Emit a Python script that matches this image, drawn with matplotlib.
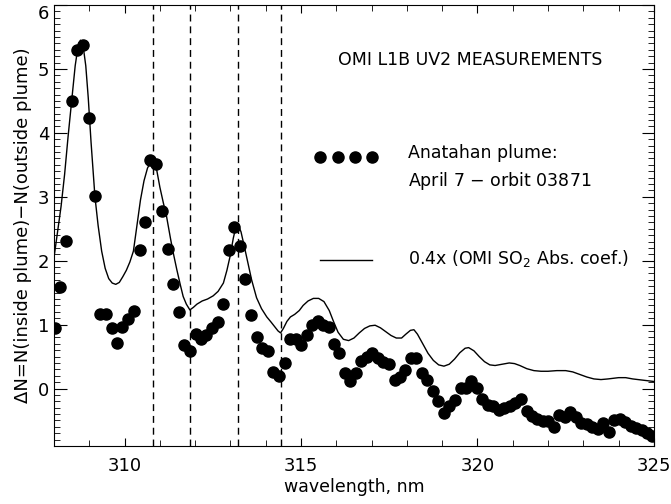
import matplotlib
matplotlib.use("Agg")
import matplotlib.pyplot as plt
from matplotlib.ticker import MultipleLocator

# measured radiance differences (dots)
wl_obs = [308.03, 308.18, 308.34, 308.50, 308.65, 308.81, 308.98, 309.15, 309.30, 309.46,
          309.63, 309.78, 309.94, 310.10, 310.27, 310.44, 310.58, 310.73, 310.90, 311.06,
          311.22, 311.37, 311.53, 311.68, 311.85, 312.01, 312.16, 312.32, 312.48, 312.65,
          312.80, 312.96, 313.11, 313.27, 313.42, 313.58, 313.74, 313.89, 314.06, 314.22,
          314.37, 314.54, 314.70, 314.86, 315.01, 315.17, 315.32, 315.48, 315.63, 315.79,
          315.93, 316.09, 316.24, 316.40, 316.56, 316.71, 316.87, 317.02, 317.18, 317.33,
          317.49, 317.65, 317.80, 317.96, 318.11, 318.27, 318.43, 318.58, 318.74, 318.89,
          319.05, 319.20, 319.36, 319.52, 319.67, 319.83, 319.98, 320.14, 320.29, 320.45,
          320.61, 320.76, 320.92, 321.07, 321.23, 321.39, 321.54, 321.70, 321.85, 322.01,
          322.16, 322.32, 322.48, 322.63, 322.79, 322.94, 323.10, 323.25, 323.41, 323.57,
          323.72, 323.88, 324.03, 324.19, 324.35, 324.50, 324.66, 324.81, 324.94]
dn_obs = [0.95, 1.59, 2.31, 4.50, 5.30, 5.38, 4.23, 3.02, 1.16, 1.16,
          0.95, 0.72, 0.97, 1.09, 1.22, 2.16, 2.60, 3.58, 3.51, 2.77,
          2.18, 1.64, 1.19, 0.68, 0.59, 0.85, 0.78, 0.83, 0.95, 1.04,
          1.32, 2.16, 2.52, 2.23, 1.72, 1.15, 0.81, 0.63, 0.59, 0.26,
          0.20, 0.40, 0.78, 0.77, 0.68, 0.84, 0.99, 1.05, 0.99, 0.96,
          0.70, 0.56, 0.24, 0.12, 0.24, 0.43, 0.50, 0.55, 0.47, 0.42,
          0.38, 0.14, 0.18, 0.29, 0.48, 0.47, 0.24, 0.14, -0.04, -0.20,
          -0.39, -0.27, -0.18, 0.01, 0.01, 0.11, 0.01, -0.16, -0.26, -0.27,
          -0.34, -0.30, -0.27, -0.22, -0.16, -0.35, -0.43, -0.47, -0.51, -0.51,
          -0.60, -0.42, -0.44, -0.36, -0.45, -0.54, -0.55, -0.60, -0.63, -0.54,
          -0.68, -0.50, -0.47, -0.52, -0.58, -0.62, -0.65, -0.69, -0.74]

# 0.4 x OMI SO2 absorption coefficient (solid line)
wl_so2 = [308.00, 308.10, 308.20, 308.30, 308.40, 308.50, 308.60, 308.68, 308.75, 308.82,
          308.90, 308.97, 309.05, 309.16, 309.25, 309.35, 309.45, 309.55, 309.65, 309.75,
          309.85, 309.95, 310.05, 310.15, 310.25, 310.35, 310.45, 310.55, 310.65, 310.75,
          310.82, 310.90, 311.00, 311.10, 311.19, 311.30, 311.38, 311.48, 311.58, 311.66,
          311.75, 311.85, 311.95, 312.05, 312.20, 312.35, 312.51, 312.65, 312.80, 312.90,
          312.99, 313.08, 313.15, 313.22, 313.30, 313.41, 313.50, 313.60, 313.74, 313.88,
          314.03, 314.15, 314.25, 314.35, 314.42, 314.50, 314.60, 314.70, 314.82, 314.95,
          315.06, 315.20, 315.35, 315.50, 315.65, 315.80, 315.92, 316.05, 316.20, 316.35,
          316.50, 316.65, 316.80, 316.95, 317.10, 317.25, 317.40, 317.55, 317.70, 317.85,
          317.97, 318.10, 318.20, 318.30, 318.45, 318.60, 318.75, 318.90, 319.05, 319.20,
          319.35, 319.50, 319.65, 319.75, 319.90, 320.05, 320.20, 320.35, 320.50, 320.70,
          320.90, 321.05, 321.20, 321.40, 321.60, 321.80, 322.00, 322.25, 322.50, 322.70,
          322.90, 323.10, 323.30, 323.50, 323.70, 324.00, 324.20, 324.40, 324.70, 325.00]
so2 = [2.05, 2.45, 2.85, 3.35, 3.95, 4.50, 5.05, 5.35, 5.45, 5.38,
       5.05, 4.55, 3.85, 3.00, 2.55, 2.15, 1.88, 1.72, 1.65, 1.63,
       1.66, 1.75, 1.85, 1.98, 2.15, 2.55, 2.95, 3.25, 3.45, 3.55,
       3.55, 3.45, 3.15, 2.90, 2.69, 2.35, 2.12, 1.86, 1.62, 1.44,
       1.32, 1.23, 1.27, 1.32, 1.37, 1.40, 1.45, 1.52, 1.65, 1.85,
       2.07, 2.35, 2.52, 2.56, 2.45, 2.18, 1.95, 1.70, 1.42, 1.25,
       1.12, 1.04, 0.97, 0.90, 0.87, 0.94, 1.05, 1.12, 1.16, 1.22,
       1.30, 1.37, 1.41, 1.41, 1.36, 1.22, 1.05, 0.88, 0.77, 0.75,
       0.79, 0.87, 0.94, 0.98, 0.99, 0.95, 0.89, 0.83, 0.79, 0.79,
       0.85, 0.91, 0.92, 0.85, 0.70, 0.55, 0.44, 0.37, 0.35, 0.38,
       0.46, 0.56, 0.63, 0.64, 0.59, 0.50, 0.42, 0.37, 0.36, 0.38,
       0.40, 0.39, 0.36, 0.31, 0.28, 0.27, 0.27, 0.28, 0.28, 0.26,
       0.22, 0.18, 0.15, 0.14, 0.15, 0.17, 0.17, 0.15, 0.13, 0.11]

# SO2 band positions marked with dashed lines
so2_lines = [310.81, 311.86, 313.22, 314.42]

plt.rcParams['font.family'] = ['DejaVu Sans']
plt.rcParams['font.size'] = 12.5

fig = plt.figure(figsize=(6.71, 5.04), dpi=100)
ax = fig.add_axes([0.0805, 0.115, 0.894, 0.875])

ax.plot(wl_so2, so2, color='black', lw=1.0)
ax.plot(wl_obs, dn_obs, 'o', color='black', ms=8)
for w in so2_lines:
    ax.axvline(w, color='black', lw=1.0, ls=(0, (5, 3.5)))

ax.set_xlim(308, 325)
ax.set_ylim(-0.9, 6)
ax.xaxis.set_major_locator(MultipleLocator(5))
ax.xaxis.set_minor_locator(MultipleLocator(1))
ax.yaxis.set_major_locator(MultipleLocator(1))
ax.yaxis.set_minor_locator(MultipleLocator(0.1))
ax.tick_params(which='both', direction='in', top=True, right=True)
ax.tick_params(axis='x', which='major', length=6, labelsize=13, pad=8)
ax.tick_params(axis='x', which='minor', length=4)
ax.tick_params(axis='y', which='major', length=9, labelsize=13)
ax.tick_params(axis='y', which='minor', length=4.5)

# top label "6" sits just below the frame, as in the original
fig.canvas.draw()
for lab in ax.get_yticklabels():
    if lab.get_text() == '6':
        lab.set_verticalalignment('top')

ax.set_xlabel('wavelength, nm', labelpad=2)
ax.set_ylabel('ΔN=N(inside plume)−N(outside plume)', labelpad=4, fontsize=13)

# legend drawn by hand like the original
ax.text(319.8, 5.14, 'OMI L1B UV2 MEASUREMENTS', ha='center', va='center')
ax.plot([315.55, 316.04, 316.53, 317.02], [3.63, 3.63, 3.63, 3.63], 'o', color='black', ms=8)
ax.text(318.03, 3.68, 'Anatahan plume:', ha='left', va='center')
ax.text(318.03, 3.25, 'April 7 $-$ orbit 03871', ha='left', va='center')
ax.plot([315.53, 317.0], [2.01, 2.01], color='black', lw=1.0)
ax.text(318.03, 2.03, '0.4x (OMI SO$_2$ Abs. coef.)', ha='left', va='center')

fig.savefig('out.png', dpi=100)
